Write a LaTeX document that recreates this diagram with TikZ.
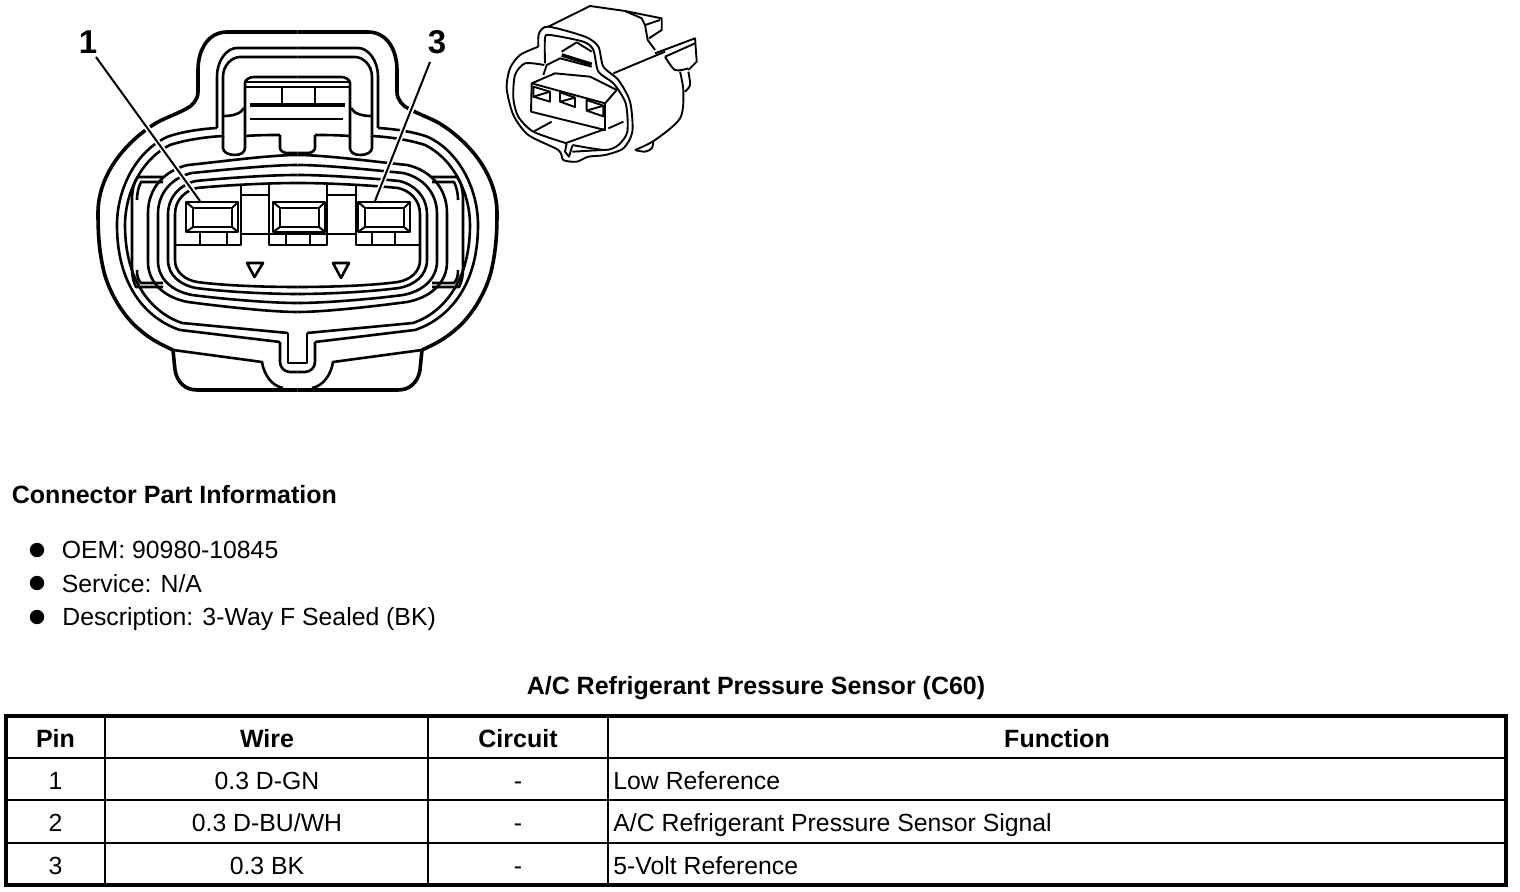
\documentclass[tikz,border=0pt]{standalone}
\usepackage{fontspec}
\usetikzlibrary{calc}
\setmainfont{Liberation Sans}
\newcommand{\ringpath}[5]{% xl top bot w d : left half, from top centre to bottom centre
  (297.5,#2) .. controls (270,#2) and (#1+#4+30,#2+#5-3) .. (#1+#4,#2+#5)
  .. controls (#1+#4*0.45,#2+#5+#4*0.12) and (#1,#2+#5+#4*0.55) .. (#1,#2+#5+#4*1.2)
  -- (#1,#3-#5-#4)
  .. controls (#1,#3-#5-#4*0.45) and (#1+#4*0.45,#3-#5-#4*0.1) .. (#1+#4,#3-#5)
  .. controls (#1+#4+30,#3-#5+4) and (270,#3) .. (297.5,#3)}
\newcommand{\lefthalf}{%
  % outer contour
  \draw[heavy] (297.5,32) -- (227,32) .. controls (208,32) and (198,50) .. (198,70) -- (198,92)
    .. controls (198,100) and (192,106) .. (186,109)
    .. controls (172,116) and (160,120) .. (153,125)
    .. controls (125,143) and (98,175) .. (98,213)
    .. controls (98,240) and (100,255) .. (104,272)
    .. controls (110,295) and (125,318) .. (140,330)
    .. controls (150,339) and (162,345) .. (173,350);
  % tab
  \draw[heavy] (173,350) -- (175,370) .. controls (177,382) and (185,390) .. (197,390) -- (297.5,390);
  \draw[line] (173,350) -- (262,362) .. controls (264,375) and (272,386) .. (283,388);
  % keyway
  \draw[line] (297.5,372) -- (290,372) .. controls (284,372) and (280,367) .. (280,362) -- (280,342);
  \draw[line] (297.5,363) -- (288,363) -- (288,333);
  % ring B and C
  \draw[line] (280,342) -- (180,330) .. controls (150,320) and (117,290) .. (117,225)
    .. controls (117,190) and (135,152) .. (167,137) .. controls (180,132) and (200,129) .. (217,128);
  \draw[line] (288,333) -- (182,323) .. controls (155,314) and (125,285) .. (125,225)
    .. controls (125,195) and (140,160) .. (170,145) .. controls (185,140) and (205,137) .. (223,136);
  % side window
  \draw[line] (163,177) -- (138,177) .. controls (134,182) and (132,190) .. (132,200) -- (132,270)
     .. controls (132,277) and (134,283) .. (136,287) -- (163,287);
  \draw[line] (163,182) -- (141,182) .. controls (139,186) and (137,192) .. (137,200);
  \draw[line] (137,270) .. controls (137,276) and (138,280) .. (141,283) -- (163,283);
  % latch
  \draw[line] (217,128) -- (217,77) .. controls (217,60) and (227,48) .. (237,48) -- (297.5,48);
  \draw[line] (223,136) -- (223,148) .. controls (223,152) and (228,155) .. (235,155)
     .. controls (241,155) and (245,152) .. (245,148) -- (245,83)
     .. controls (245,80) and (249,77) .. (254,77) -- (297.5,77);
  \draw[line] (223,137) -- (223,77) .. controls (223,65) and (232,57) .. (240,57) -- (297.5,57);
  \draw[line] (246,82) -- (297.5,82);
  \draw[line] (245,87) -- (297.5,87);
  \draw[line] (224,116) .. controls (232,116) and (241,114) .. (244,108);
  \draw[line] (245,136) .. controls (260,135) and (270,135) .. (280,135);
  \draw[line] (280,135) -- (280,148) .. controls (280,151) and (284,153) .. (287,153) -- (297.5,153);
  % rings
  \draw[line] \ringpath{148}{155}{312}{40}{10};
  \draw[line] \ringpath{158}{165}{303}{34}{8};
  \draw[line] \ringpath{168}{175}{294}{28}{6};
  \draw[line] \ringpath{175}{183}{287}{22}{5};
}
\tikzset{
  heavy/.style={draw=black,line width=1.8pt,line join=round},
  line/.style={draw=black,line width=1.3pt,line join=round},
  thin3/.style={draw=black,line width=1pt,line join=round},
  hdr/.style={font=\fontsize{12.5}{14}\selectfont\bfseries,inner sep=0pt},
  body/.style={font=\fontsize{12.4}{14}\selectfont,inner sep=0pt},
  bignum/.style={font=\fontsize{16.5}{18}\selectfont\bfseries,inner sep=0pt},
  bul/.style={circle,fill=black,inner sep=0pt,minimum size=7.2pt},
  tbl/.style={draw=black,line width=0.9pt},
  tblo/.style={draw=black,line width=1.7pt},
}
\begin{document}
\begin{tikzpicture}[x=0.5pt,y=-0.5pt]
\useasboundingbox (0,0) rectangle (1520,892);
\fill[white] (0,0) rectangle (1520,892);
% main connector
\lefthalf
\begin{scope}[shift={(595,0)},xscale=-1]
\lefthalf
\end{scope}
% latch centre
\draw[line width=2pt] (250,105) -- (345,105);
\draw[line] (250,119) -- (343,119);
\draw[line] (282,87) -- (282,105);
\draw[line] (315,87) -- (315,105);
% pin blocks
\draw[line] (175,245) -- (241,245) -- (241,185);
\draw[line] (269,183) rectangle (327,245);
\draw[line] (356,185) -- (356,245) -- (420,245);
\draw[line] (241,195) -- (269,195) (241,234) -- (269,234);
\draw[line] (327,195) -- (356,195) (327,234) -- (356,234);
\foreach \xa/\xb/\ta/\tb in {186/238/200/227, 273/325/286/310, 358/410/372/395}{
  \draw[line] (\xa,202) rectangle (\xb,232);
  \draw[thin3] (\xa+7,208) -- (\xb-6,208) -- (\xb-6,227) -- (\xa+7,227) -- cycle;
  \draw[thin3] (\xa,202) -- (\xa+7,208) (\xb,202) -- (\xb-6,208) (\xa,232) -- (\xa+7,227) (\xb,232) -- (\xb-6,227);
  \draw[line] (\ta,232) -- (\ta,245) (\tb,232) -- (\tb,245);
}
\draw[line] (269,234) -- (327,234);
% triangles
\draw[line] (247,263) -- (263,263) -- (254.5,277) -- cycle;
\draw[line] (333,263) -- (349,263) -- (341,278) -- cycle;
% labels and leaders
\node[bignum,anchor=center] (lone) at (88,42) {1};
\node[bignum,anchor=center] (lthree) at (437,42) {3};
\coordinate (ponestart) at (96,57);
\coordinate (poneend) at (200,201);
\coordinate (pthreestart) at (430,62);
\coordinate (pthreeend) at (375,201);
\draw[white,line width=2.8pt] ($(ponestart)!0.1!(poneend)$) -- ($(ponestart)!0.95!(poneend)$);
\draw[white,line width=2.8pt] ($(pthreestart)!0.1!(pthreeend)$) -- ($(pthreestart)!0.95!(pthreeend)$);
\draw[thin3] (ponestart) -- (poneend);
\draw[thin3] (pthreestart) -- (pthreeend);
% small connector
\begin{scope}[shift={(495,5)},x=0.1667pt,y=-0.1667pt,thin3,line width=0.95pt]
\draw plot[smooth,tension=0.45] coordinates {(130,125)(132,85)(160,65)(270,95)(310,125)(325,185)(370,225)(405,290)(412,380)(385,430)(330,450)(280,455)(245,470)(205,465)(190,435)(100,390)(55,330)(35,250)(45,190)(75,150)(130,125)};
\draw plot[smooth,tension=0.45] coordinates {(150,175)(150,100)(165,90)(265,110)(295,135)(310,200)(355,235)(392,295)(397,380)(370,420)(330,435)(232,420)};
\draw plot[smooth,tension=0.45] coordinates {(148,180)(90,175)(60,210)(55,280)(70,335)(115,380)(215,415)};
\draw (160,65) -- (285,3) -- (390,18) -- (500,40) -- (500,75) -- (462,100);
\draw (390,18) -- (440,40) -- (450,60) -- (458,105) -- (480,135);
\draw (450,60) -- (495,45);
\draw (480,145) -- (600,100) -- (605,170) -- (580,195);
\draw (510,155) -- (600,115);
\draw (355,205) -- (510,140);
\draw plot[smooth] coordinates {(510,155)(540,195)(580,190)};
\draw plot[smooth] coordinates {(555,200)(565,260)(555,340)(480,405)(420,435)};
\draw plot[smooth] coordinates {(420,435)(450,440)(470,430)(475,410)};
\draw plot[smooth] coordinates {(580,200)(585,240)(570,260)};
\draw (110,235) -- (180,205) -- (285,215) -- (365,255) -- (330,295) -- (110,235) -- (108,320) -- (330,375) -- (330,295);
\foreach \ax/\ay/\bx/\by/\h in {115/245/165/260/30, 195/262/240/278/28, 275/285/325/302/32}{
  \draw (\ax,\ay) -- (\bx,\by) -- (\bx,\by+\h) -- (\ax,\ay+\h) -- cycle;
  \draw (\ax,\ay+\h) -- (\bx,\by);
}
\draw (145,210) -- (155,180) -- (195,160) -- (290,185);
\draw[line width=1.8pt] (200,150) -- (290,178);
\draw (200,140) -- (245,112) -- (290,140);
\draw (115,380) -- (170,350);
\draw (210,415) -- (330,372);
\draw (340,370) -- (385,350);
\draw (215,415) -- (210,440) -- (222,455) -- (232,422);
\draw (232,440) -- (320,435);
\end{scope}
% text
\node[hdr,anchor=base west] (tpart) at (11.5,504) {Connector Part Information};
\node[bul] (b1) at (37,550) {};
\node[bul] (b2) at (37,583) {};
\node[bul] (b3) at (37,617) {};
\node[body,anchor=base west] (t1) at (61.5,559) {OEM: 90980-10845};
\node[body,anchor=base west] (t2) at (61.5,592) {Service: N/A};
\node[body,anchor=base west] (t3) at (62,625) {Description: 3-Way F Sealed (BK)};
\node[hdr,anchor=base] (ttitle) at (756,694) {A/C Refrigerant Pressure Sensor (C60)};
% table
\draw[tblo] (6,716) rectangle (1506,885);
\draw[tbl] (105,716) -- (105,885) (428,716) -- (428,885) (608,716) -- (608,885);
\draw[tbl] (6,758) -- (1506,758) (6,800) -- (1506,800) (6,843) -- (1506,843);
\node[hdr,anchor=base] (h1) at (55.5,747) {Pin};
\node[hdr,anchor=base] (h2) at (267,747) {Wire};
\node[hdr,anchor=base] (h3) at (518,747) {Circuit};
\node[hdr,anchor=base] (h4) at (1057,747) {Function};
\foreach \nm/\y/\p/\w/\f in {a/789/1/0.3 D-GN/Low Reference, b/831/2/0.3 D-BU\slash WH/A\slash C Refrigerant Pressure Sensor Signal, c/874/3/0.3 BK/5-Volt Reference}{
  \node[body,anchor=base] (p\nm) at (55.5,\y) {\p};
  \node[body,anchor=base] (w\nm) at (267,\y) {\w};
  \node[body,anchor=base] (c\nm) at (518,\y) {-};
  \node[body,anchor=base west] (f\nm) at (613,\y) {\f};
}
\end{tikzpicture}
\end{document}
